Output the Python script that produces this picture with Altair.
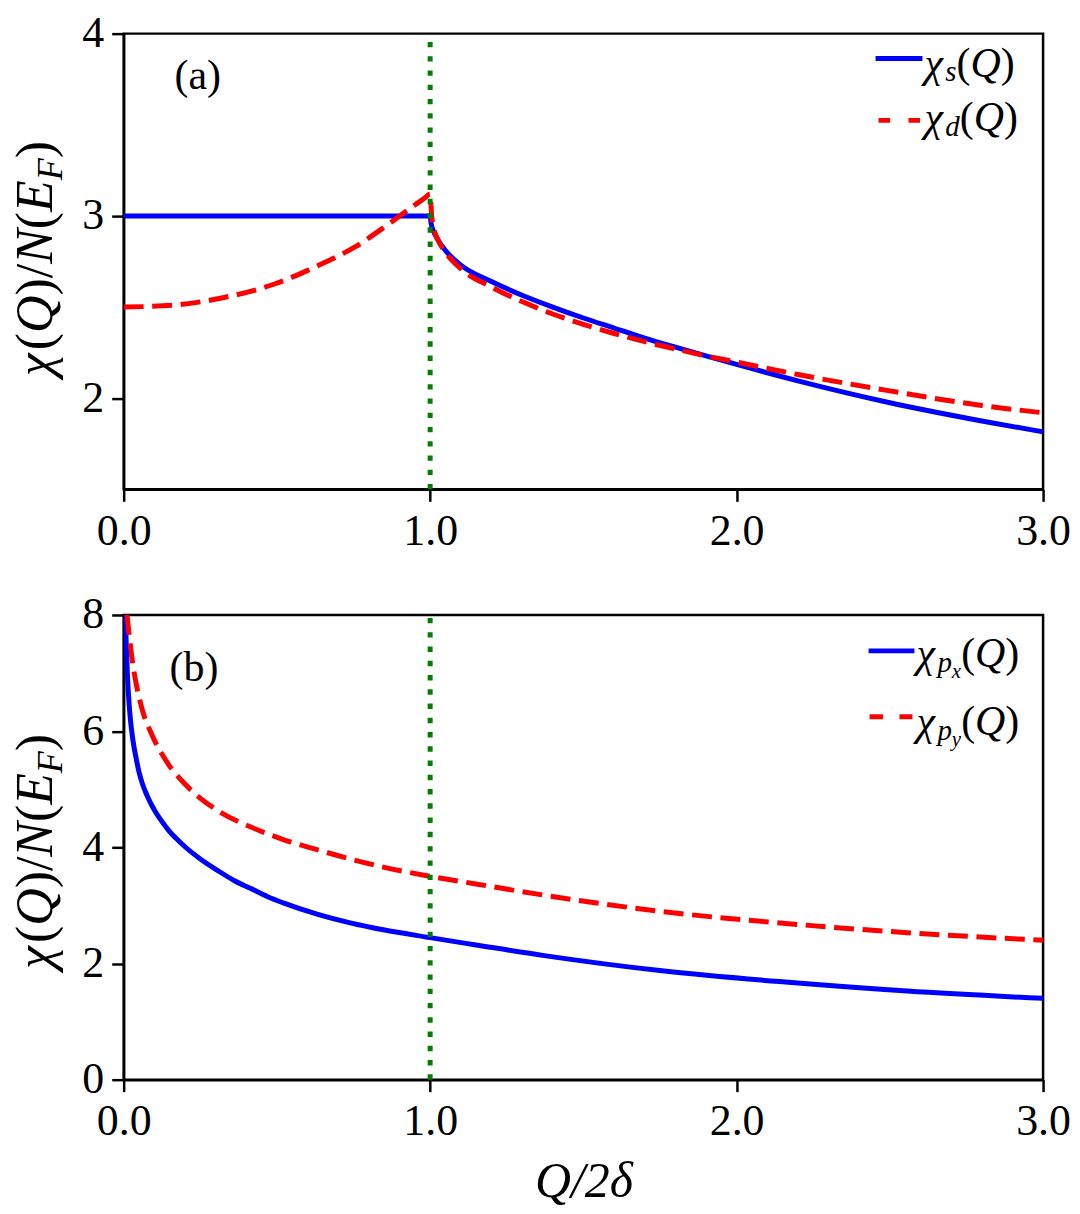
import altair as alt
import pandas as pd

FONT = "Liberation Serif"

# ── Panel (a): s-wave and d-wave susceptibility ─────────────────────────────
q_s = [0.0, 0.5, 1.0, 1.003, 1.01, 1.025, 1.05, 1.1, 1.2, 1.3, 1.4, 1.5,
       1.6, 1.7, 1.8, 1.9, 2.0, 2.2, 2.5, 2.8, 3.0]
chi_s = [3.0, 3.0, 3.0, 2.96, 2.92, 2.87, 2.81, 2.73, 2.64, 2.565, 2.50, 2.44,
         2.385, 2.33, 2.28, 2.232, 2.185, 2.095, 1.975, 1.875, 1.815]

q_d = [0.0, 0.16, 0.32, 0.49, 0.65, 0.755, 0.86, 0.95, 0.98, 1.0, 1.005,
       1.012, 1.025, 1.05, 1.1, 1.2, 1.3, 1.4, 1.5, 1.6, 1.7, 1.8, 1.9,
       2.0, 2.2, 2.5, 2.8, 3.0]
chi_d = [2.50, 2.51, 2.55, 2.625, 2.74, 2.83, 2.95, 3.06, 3.095, 3.12, 3.00,
         2.93, 2.87, 2.80, 2.71, 2.61, 2.53, 2.462, 2.405, 2.355, 2.31, 2.27,
         2.232, 2.198, 2.13, 2.04, 1.96, 1.92]

# ── Panel (b): p_x and p_y susceptibility ───────────────────────────────────
q_px = [0.0055, 0.008, 0.012, 0.016, 0.022, 0.03, 0.04, 0.05, 0.06, 0.07,
        0.08, 0.092, 0.105, 0.12, 0.135, 0.15, 0.17, 0.2, 0.25, 0.307,
        0.36, 0.415, 0.47, 0.523, 0.631, 0.739, 0.847, 1.0, 1.149, 1.367,
        1.764, 2.159, 2.557, 3.0]
chi_px = [8.0, 7.55, 7.0, 6.6, 6.2, 5.85, 5.55, 5.3, 5.11, 4.97,
          4.85, 4.72, 4.60, 4.48, 4.37, 4.27, 4.16, 4.01, 3.80, 3.60,
          3.43, 3.29, 3.15, 3.04, 2.85, 2.70, 2.58, 2.445, 2.32, 2.14,
          1.87, 1.68, 1.525, 1.40]

q_py = [0.011, 0.027, 0.059, 0.092, 0.146, 0.2, 0.307, 0.415, 0.523, 0.631,
        0.739, 0.847, 1.0, 1.149, 1.367, 1.764, 2.159, 2.557, 3.0]
chi_py = [8.0, 7.26, 6.40, 5.94, 5.43, 5.09, 4.63, 4.35, 4.13, 3.96,
          3.80, 3.66, 3.50, 3.37, 3.18, 2.89, 2.69, 2.53, 2.40]

# ── Axes ────────────────────────────────────────────────────────────────────
x_domain = [0.0, 3.0]
x_ticks = [0.0, 1.0, 2.0, 3.0]
ya_domain = [1.5, 4.0]
ya_ticks = [2, 3, 4]
yb_domain = [0, 8]
yb_ticks = [0, 2, 4, 6, 8]
q_critical = [1.0]

W = 922
HA = 457
HB = 466

ONE = pd.DataFrame({"k": [0]})

# approximate advance widths (em) of Times-metric glyphs
EM = {"χ": 0.5, "(": 0.333, ")": 0.333, "/": 0.278, "Q": 0.722, "N": 0.667,
      "E": 0.611, "F": 0.611, "s": 0.389, "d": 0.5, "p": 0.5, "x": 0.444,
      "y": 0.444}


def piece(s, x, y, size, italic=True, angle=0):
    extra = {"angle": angle} if angle else {}
    return alt.Chart(ONE).mark_text(
        text=s, font=FONT, fontSize=size, color="black",
        fontStyle="italic" if italic else "normal",
        align="left", baseline="alphabetic", **extra,
    ).encode(x=alt.value(x), y=alt.value(y))


def math_text(parts, x, y, vertical=False):
    # parts: (text, size, italic, drop) laid out along the reading direction;
    # drop lowers a piece below the baseline (subscripts)
    layers, off = [], 0.0
    for s, size, italic, drop in parts:
        if vertical:
            layers.append(piece(s, x + drop, y - off, size, italic, angle=270))
        else:
            layers.append(piece(s, x + off, y + drop, size, italic))
        off += sum(EM.get(c, 0.5) for c in s) * size
    return layers


def legend_label(x, y, sub, subsub=None):
    parts = [("χ", 42, True, 0), (sub, 29, True, 5)]
    if subsub:
        parts.append((subsub, 21, True, 11))
    parts += [("(", 42, False, 0), ("Q", 42, True, 0), (")", 42, False, 0)]
    return math_text(parts, x, y)


def y_title(h, shift=0):
    parts = [("χ", 52, True, 0), ("(", 52, False, 0), ("Q", 52, True, 0),
             (")/", 52, False, 0), ("N", 52, True, 0), ("(", 52, False, 0),
             ("E", 52, True, 0), ("F", 36, True, 10), (")", 52, False, 0)]
    return math_text(parts, -72, h / 2 + 120 + shift, vertical=True)


def curve(q, chi, color, ydom, yticks, x_title, dash=None):
    extra = {"strokeDash": dash} if dash else {}
    df = pd.DataFrame({"q": q, "chi": chi})
    return alt.Chart(df).mark_line(
        color=color, strokeWidth=5, interpolate="monotone", clip=True, **extra
    ).encode(
        x=alt.X("q:Q", scale=alt.Scale(domain=x_domain, nice=False),
                axis=alt.Axis(values=x_ticks, format=".1f", title=x_title)),
        y=alt.Y("chi:Q", scale=alt.Scale(domain=ydom, nice=False),
                axis=alt.Axis(values=yticks, format="d", title=None)),
    )


def critical_line(h):
    return alt.Chart(pd.DataFrame({"q": q_critical})).mark_rule(
        color="#008000", strokeWidth=5, strokeDash=[5.4, 8.9], strokeCap="butt"
    ).encode(x="q:Q", y=alt.value(h), y2=alt.value(0))


def swatch(x1, x2, y, color, dash=None):
    extra = {"strokeDash": dash} if dash else {}
    return alt.Chart(ONE).mark_rule(
        color=color, strokeWidth=5, strokeCap="butt", **extra
    ).encode(x=alt.value(x1), x2=alt.value(x2), y=alt.value(y))


# ── Panel (a) ───────────────────────────────────────────────────────────────
top = alt.layer(
    curve(q_s, chi_s, "#0000ff", ya_domain, ya_ticks, None),
    curve(q_d, chi_d, "#ff0000", ya_domain, ya_ticks, None, dash=[20, 8.6]),
    critical_line(HA),
    piece("(a)", 51, 56, 42, italic=False),
    swatch(W - 168, W - 121, 25, "#0000ff"),
    swatch(W - 165, W - 123, 87, "#ff0000", dash=[11.6, 18.4]),
    *legend_label(W - 119, 43, "s"),
    *legend_label(W - 119, 98, "d"),
    *y_title(HA, shift=-5),
).properties(width=W, height=HA)

# ── Panel (b) ───────────────────────────────────────────────────────────────
bottom = alt.layer(
    curve(q_px, chi_px, "#0000ff", yb_domain, yb_ticks, "Q/2δ"),
    curve(q_py, chi_py, "#ff0000", yb_domain, yb_ticks, "Q/2δ", dash=[20, 8.6]),
    critical_line(HB),
    piece("(b)", 46, 66, 42, italic=False),
    swatch(W - 175, W - 129, 36, "#0000ff"),
    swatch(W - 174, W - 131, 102, "#ff0000", dash=[13.5, 16.5]),
    *legend_label(W - 127, 52, "p", "x"),
    *legend_label(W - 127, 120, "p", "y"),
    *y_title(HB, shift=2),
).properties(width=W, height=HB)

chart = (
    alt.vconcat(top, bottom, spacing=36)
    .properties(padding={"left": 0, "top": 0, "right": 0, "bottom": 0})
    .configure_view(stroke="black", strokeWidth=2.5)
    .configure_axis(
        labelFont=FONT, labelFontSize=44, labelColor="black", labelFlush=False,
        labelPadding=8, tickColor="black", tickWidth=2.5, tickSize=12,
        domainColor="black", domainWidth=2.5, grid=False,
        titleFont=FONT, titleFontSize=50, titleFontStyle="italic",
        titleFontWeight="normal", titleColor="black", titlePadding=13,
    )
)

chart.save("out.html", embed_options={"renderer": "svg", "actions": False})
